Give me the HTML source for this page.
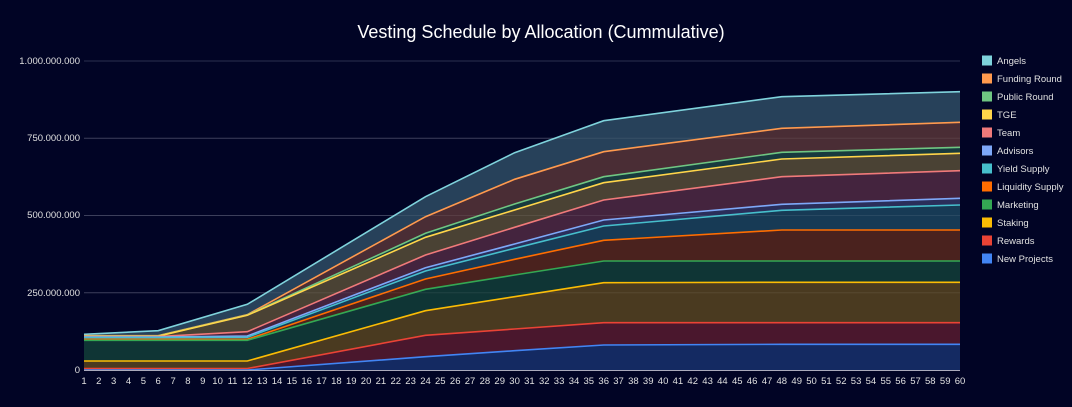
<!DOCTYPE html>
<html><head><meta charset="utf-8"><style>
html,body{margin:0;padding:0;background:#010425;}
svg{display:block;font-family:"Liberation Sans",sans-serif;}
</style></head><body>
<svg id="sv" width="1072" height="407" viewBox="0 0 1072 407" xmlns="http://www.w3.org/2000/svg">
<rect width="1072" height="407" fill="#010425"/>
<text x="541" y="38" text-anchor="middle" font-size="18" fill="#ffffff">Vesting Schedule by Allocation (Cummulative)</text>
<g stroke="#2c2f4e" stroke-width="1">
<line x1="84" x2="960" y1="61" y2="61"/><line x1="84" x2="960" y1="138.3" y2="138.3"/>
<line x1="84" x2="960" y1="215.5" y2="215.5"/><line x1="84" x2="960" y1="292.8" y2="292.8"/>
</g>
<g font-size="9.5" fill="#e0e0e0" text-anchor="end">
<text x="80" y="64">1.000.000.000</text><text x="80" y="141">750.000.000</text>
<text x="80" y="218">500.000.000</text><text x="80" y="296">250.000.000</text><text x="80" y="373">0</text>
</g>
<g id="areas"></g>
<g id="lines" fill="none" stroke-width="1.6"></g>
<g stroke="rgba(255,255,255,0.08)"><line x1="84" x2="960" y1="138.3" y2="138.3"/><line x1="84" x2="960" y1="215.5" y2="215.5"/><line x1="84" x2="960" y1="292.8" y2="292.8"/></g>
<line x1="84" x2="960" y1="370.5" y2="370.5" stroke="#aab" stroke-width="1"/>
<g id="xl" font-size="9.5" fill="#e0e0e0" text-anchor="middle"></g>
<g id="leg" font-size="9.5" fill="#e0e0e0"></g>
</svg>
<script>
var X=[1,6,12,24,30,36,48,60];
function px(m){return 84+(m-1)*876/59;}
var S=[
["Angels","#7fd3dc","#27415a",[334.3,330.7,304.3,196.7,152.7,120.7,96.7,91.7]],
["Funding Round","#ff9a4e","#4a2d35",[335.7,335.7,314.7,216.7,179.3,151.7,128.3,122.3]],
["Public Round","#6fc682","#183a3e",[335.9,335.9,315,233.3,204,176.7,152.3,147.3]],
["TGE","#ffd54a","#4a4234",[336.2,336.2,315.3,237.3,210,182.7,159,153.3]],
["Team","#f07a7a","#44243e",[336.6,336.6,331.7,255,227.3,200,176.7,170.7]],
["Advisors","#7ea8f8","#2a2e5a",[337,337,336,267.7,244,220,204.3,198.3]],
["Yield Supply","#46bfcc","#173a55",[337.6,337.6,337.3,271,248.3,226,210.3,205]],
["Liquidity Supply","#ff6d00","#4a221e",[339.3,339.3,339.3,279,259.3,240.3,230,230]],
["Marketing","#34a853","#0f3535",[340.3,340.3,340.3,289.3,275,261,261,261]],
["Staking","#fbbc04","#4a3a20",[361,361,361,310.7,296.7,282.7,282.3,282.3]],
["Rewards","#ea4335","#4a172d",[368.5,368.5,368.5,335.3,329,322.7,322.7,322.7]],
["New Projects","#4285f4","#142a62",[370,370,370,356.7,350.7,345,344.3,344.3]]];
var ns="http://www.w3.org/2000/svg",A=document.getElementById("areas"),L=document.getElementById("lines");
function el(t,at,par,txt){var e=document.createElementNS(ns,t);for(var k in at)e.setAttribute(k,at[k]);if(txt)e.textContent=txt;par.appendChild(e);return e;}
S.forEach(function(s){
 var pts=X.map(function(m,i){return px(m).toFixed(1)+","+s[3][i];}).join(" ");
 el("polygon",{points:pts+" 960,370 84,370",fill:s[2]},A);
 el("polyline",{points:pts,stroke:s[1]},L);
});
var xl=document.getElementById("xl");
for(var m=1;m<=60;m++)el("text",{x:px(m).toFixed(1),y:384},xl,String(m));
var lg=document.getElementById("leg");
S.forEach(function(s,i){var y=60.5+i*18;el("rect",{x:982,y:y-5,width:10,height:10,fill:s[1]},lg);el("text",{x:997,y:y+3.5},lg,s[0]);});
</script>
</body></html>
